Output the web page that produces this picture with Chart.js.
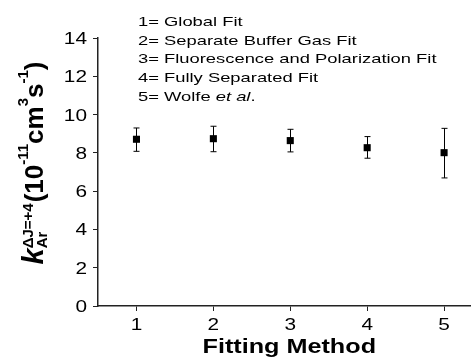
<!DOCTYPE html>
<html>
<head>
<meta charset="utf-8">
<script src="https://cdn.jsdelivr.net/npm/chart.js@4"></script>
<style>
  html, body { margin: 0; padding: 0; background: #fff; }
  #wrap { width: 471px; height: 360px; }
</style>
</head>
<body>
<div id="wrap"><canvas id="myChart" width="471" height="360"></canvas></div>
<script>
const methods = [1, 2, 3, 4, 5];
const rate = [8.71, 8.74, 8.64, 8.27, 8.01];
const errUp = [9.30, 9.39, 9.23, 8.85, 9.28];
const errLow = [8.08, 8.06, 8.05, 7.72, 6.69];
const yTicks = [0, 2, 4, 6, 8, 10, 12, 14];
const xTitle = 'Fitting Method';
const legendLines = [
    ['1= Global Fit'],
    ['2= Separate Buffer Gas Fit'],
    ['3= Fluorescence and Polarization Fit'],
    ['4= Fully Separated Fit'],
    ['5= Wolfe ', 'et al', '.']
];

const FAM = '"Liberation Sans", Arial, sans-serif';

// text in the original looks stretched sideways, so draw it scaled
function txt(ctx, s, x, y, font, sx, align) {
    ctx.save();
    ctx.font = font;
    const w = ctx.measureText(s).width * sx;
    const x0 = align === 'right' ? x - w : align === 'center' ? x - w / 2 : x;
    ctx.translate(x0, y);
    ctx.scale(sx, 1);
    ctx.textAlign = 'left';
    ctx.textBaseline = 'alphabetic';
    ctx.fillText(s, 0, 0);
    ctx.restore();
    return w;
}

// error bars drawn from the scales
const errorBars = {
    id: 'errorBars',
    afterDatasetsDraw(chart) {
        const ctx = chart.ctx;
        const xs = chart.scales.x, ys = chart.scales.y;
        ctx.save();
        ctx.strokeStyle = '#000';
        ctx.lineWidth = 1;
        methods.forEach((m, i) => {
            const x = Math.round(xs.getPixelForValue(m)) + 0.5;
            const y1 = ys.getPixelForValue(errUp[i]);
            const y2 = ys.getPixelForValue(errLow[i]);
            ctx.beginPath();
            ctx.moveTo(x, y1); ctx.lineTo(x, y2);
            ctx.moveTo(x - 3, y1); ctx.lineTo(x + 3, y1);
            ctx.moveTo(x - 3, y2); ctx.lineTo(x + 3, y2);
            ctx.stroke();
        });
        ctx.restore();
    }
};

const texts = {
    id: 'texts',
    afterDraw(chart) {
        const ctx = chart.ctx;
        const xs = chart.scales.x, ys = chart.scales.y;
        ctx.save();
        ctx.fillStyle = '#000';

        // tick labels
        yTicks.forEach(v => {
            txt(ctx, String(v), 87, ys.getPixelForValue(v) + 6, '16px ' + FAM, 1.3, 'right');
        });
        methods.forEach(v => {
            txt(ctx, String(v), xs.getPixelForValue(v), 330, '16px ' + FAM, 1.3, 'center');
        });
        txt(ctx, xTitle, xs.getPixelForValue(3) - 1, 353, 'bold 21px ' + FAM, 1.2, 'center');

        // note block
        legendLines.forEach((parts, i) => {
            let x = 138;
            const y = 25.7 + i * 18.8;
            parts.forEach((p, j) => {
                x += txt(ctx, p, x, y, (j === 1 ? 'italic ' : '') + '13.5px ' + FAM, 1.36, 'left');
            });
        });

        // rotated y title
        const big = 'bold 26px ' + FAM;
        const small = 'bold 15px ' + FAM;
        const segs = [
            { t: 'k', f: 'italic bold 29px ' + FAM, d: 0 },
            { stack: [{ t: '\u0394J=+4', f: small, d: -10 }, { t: 'Ar', f: small, d: 4 }] },
            { t: '(10', f: big, d: 0 },
            { t: '-11', f: small, d: -15 },
            { t: 'cm', f: big, d: 0 },
            { t: '3', f: small, d: -15 },
            { t: 's', f: big, d: 0 },
            { t: '-1', f: small, d: -15 },
            { t: ')', f: big, d: 0 }
        ];
        const w = s => { ctx.font = s.f; return ctx.measureText(s.t).width; };
        let total = 0;
        segs.forEach(s => { total += s.stack ? Math.max(...s.stack.map(w)) + 1 : w(s); });
        ctx.translate(43, 163);
        ctx.rotate(-Math.PI / 2);
        ctx.textBaseline = 'alphabetic';
        let x = -total / 2;
        segs.forEach(s => {
            if (s.stack) {
                s.stack.forEach(p => { ctx.font = p.f; ctx.fillText(p.t, x, p.d); });
                x += Math.max(...s.stack.map(w)) + 1;
            } else {
                ctx.font = s.f;
                ctx.fillText(s.t, x, s.d);
                x += w(s);
            }
        });
        ctx.restore();
    }
};

const ctx = document.getElementById('myChart').getContext('2d');
const myChart = new Chart(ctx, {
    type: 'scatter',
    data: {
        datasets: [{
            data: methods.map((m, i) => ({ x: m, y: rate[i] })),
            pointStyle: 'rect',
            pointRadius: 5,
            pointHoverRadius: 5,
            backgroundColor: '#000',
            borderColor: '#000',
            borderWidth: 0
        }]
    },
    options: {
        responsive: false,
        animation: false,
        events: [],
        layout: { autoPadding: false, padding: { top: 38, right: 0, left: 0, bottom: 0 } },
        plugins: { legend: { display: false }, tooltip: { enabled: false } },
        scales: {
            x: {
                type: 'linear',
                min: 0.5,
                max: 5.35,
                afterBuildTicks: s => { s.ticks = methods.map(v => ({ value: v })); },
                afterFit: s => { s.height = 54; },
                grid: { drawOnChartArea: false, drawTicks: true, tickLength: 5, color: '#222' },
                border: { display: true, color: '#222', width: 1.5 },
                ticks: { display: false }
            },
            y: {
                min: 0,
                max: 14,
                afterBuildTicks: s => { s.ticks = yTicks.map(v => ({ value: v })); },
                afterFit: s => { s.width = 98; },
                grid: { drawOnChartArea: false, drawTicks: true, tickLength: 5, color: '#222' },
                border: { display: true, color: '#222', width: 1.5 },
                ticks: { display: false }
            }
        }
    },
    plugins: [errorBars, texts]
});
</script>
</body>
</html>
